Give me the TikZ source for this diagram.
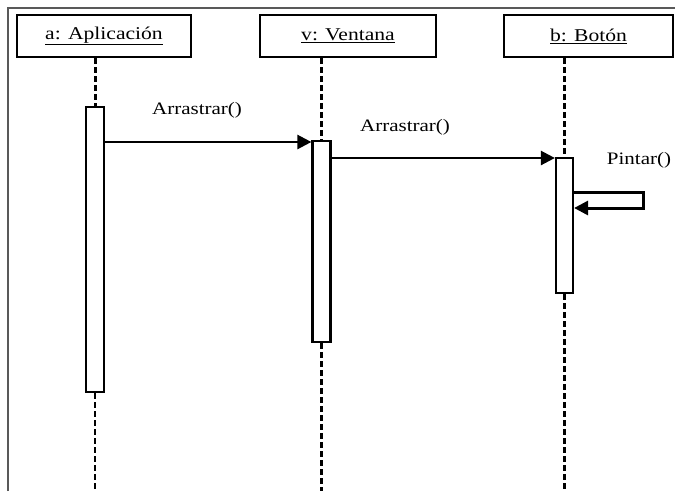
\documentclass[tikz,border=0pt]{standalone}
\usepackage{fontspec}
\setmainfont[FakeStretch=1.2]{Liberation Serif}
\usetikzlibrary{arrows.meta}
\tikzset{
  objbox/.style={draw=black, line width=2.4pt, fill=white, inner sep=0pt,
    font=\fontsize{18}{20}\selectfont},
  actbox/.style={draw=black, line width=2.2pt, fill=white, inner sep=0pt, minimum width=18pt},
  life/.style={draw=black, line width=2.2pt, dash pattern=on 6pt off 3pt},
  lifetop/.style={life, line width=3pt},
  msg/.style={draw=black, line width=2.4pt, -{Triangle[length=14pt,width=14pt]}},
  msglabel/.style={inner sep=0pt, font=\fontsize{17.5}{19}\selectfont},
  frameline/.style={draw=black!65, line width=1.2pt}
}
\begin{document}
\begin{tikzpicture}[x=1pt,y=-1pt]
\useasboundingbox (0,0) rectangle (675,491);
\fill[white] (0,0) rectangle (675,491);
% frame
\coordinate (fbl) at (8,491);
\coordinate (ftl) at (8,8);
\coordinate (ftr) at (675,8);
\draw[frameline] (fbl) -- (ftl) -- (ftr);
\coordinate (bot) at (0,491);
% objects
\node[objbox, minimum width=174pt, minimum height=42pt] (a) at (104,36) {\underline{a: Aplicación}};
\node[objbox, minimum width=176pt, minimum height=42pt] (v) at (348,36) {\underline{v: Ventana}};
\node[objbox, minimum width=169pt, minimum height=42pt] (b) at (588.5,36) {\underline{b: Botón}};
% activations
\node[actbox, minimum height=285pt] (aa) at (95,249.5) {};
\node[actbox, minimum height=201pt] (va) at (321.5,241.5) {};
\node[actbox, minimum height=135pt, minimum width=17pt] (ba) at (564.5,225.5) {};
% lifelines
\draw[lifetop] (aa.north |- a.south) -- (aa.north);
\draw[life] (aa.south) -- (aa.south |- bot);
\draw[life] (va.north |- v.south) -- (va.north);
\draw[life] (va.south) -- (va.south |- bot);
\draw[life] (ba.north |- b.south) -- (ba.north);
\draw[life] (ba.south) -- (ba.south |- bot);
% messages
\coordinate (m1) at (0,142);
\coordinate (m2) at (0,158);
\draw[msg] (aa.east |- m1) -- (va.west |- m1);
\node[msglabel] (l1) at (197,110) {Arrastrar()};
\draw[msg] (va.east |- m2) -- (ba.west |- m2);
\node[msglabel] (l2) at (405,127) {Arrastrar()};
% self message
\coordinate (s1) at (643,192);
\coordinate (s2) at (643,208);
\draw[msg, line width=3pt, line join=miter] (ba.east |- s1) -- (s1) -- (s2) -- (ba.east |- s2);
\node[msglabel] (l3) at (639,160) {Pintar()};
\end{tikzpicture}
\end{document}
